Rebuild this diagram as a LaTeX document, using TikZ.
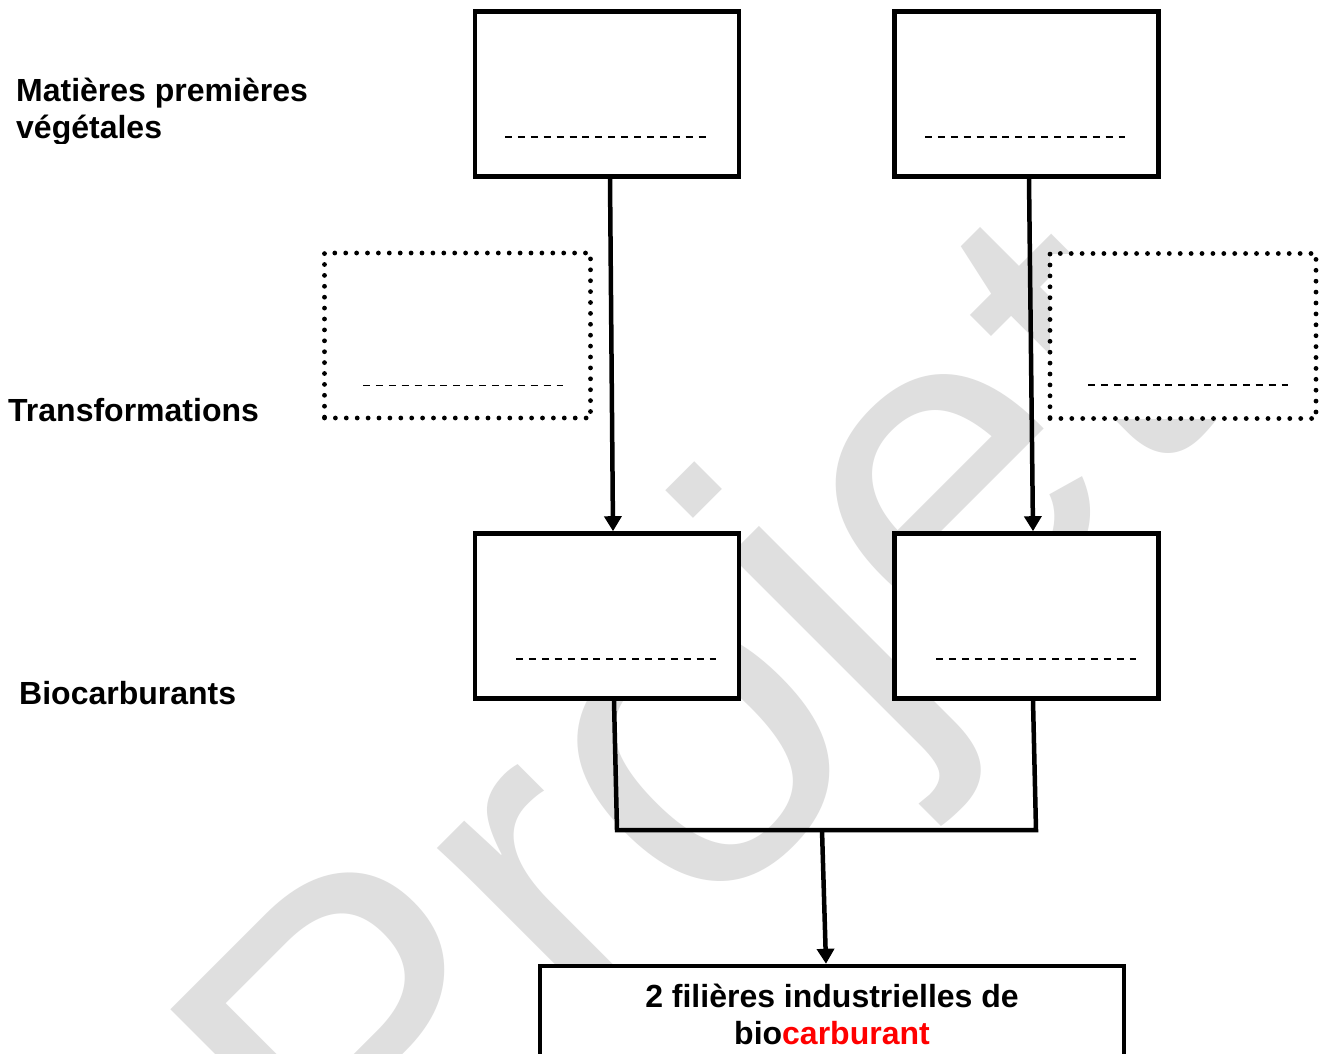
\documentclass[tikz,border=0pt]{standalone}
\usepackage{fontspec}
\setmainfont{Liberation Sans}
\usetikzlibrary{arrows.meta,calc}
\definecolor{wm}{gray}{0.875}
\definecolor{redtxt}{RGB}{255,0,0}
\begin{document}
\begin{tikzpicture}[x=1pt,y=-1pt,
  box/.style={draw, line width=4.6pt, fill=white, minimum width=264pt, minimum height=165pt, inner sep=0pt},
  dotbox/.style={draw, line width=4.8pt, dash pattern=on 0pt off 10.9pt, line cap=round, fill=white, minimum width=266pt, minimum height=165pt, inner sep=0pt},
  blank/.style={line width=1.7pt, dash pattern=on 7pt off 5.9pt},
  conn/.style={line width=4.5pt},
  arr/.style={conn, -{Triangle[width=17pt,length=15pt]}},
  lab/.style={font=\fontsize{32}{37}\selectfont\bfseries, inner sep=0pt, anchor=base west},
  ctext/.style={font=\fontsize{32}{37}\selectfont\bfseries, inner sep=0pt, anchor=base},
  water/.style={font=\fontsize{466}{466}\selectfont, text=wm, inner sep=0pt, anchor=base west, rotate=45}
]
\useasboundingbox (0,0) rectangle (1319,1054);
\clip (0,0) rectangle (1319,1054);
\fill[white] (0,0) rectangle (1319,1054);

% watermark
\node[water] (wmk) at (370,1264) {Projet};

% boxes
\node[box] (b1) at (607,94) {};
\node[box] (b2) at (1026.5,94) {};
\node[dotbox] (t1) at (457.5,335.5) {};
\node[dotbox] (t2) at (1183,336) {};
\node[box] (b3) at (607,616) {};
\node[box] (b4) at (1026.5,616) {};
\node[draw, line width=4.6pt, fill=white, minimum width=584pt, minimum height=150pt, inner sep=0pt, anchor=north] (bb) at (832,963.8) {};

% blanks
\draw[blank] ([shift={(-102,43)}]b1.center) -- ([shift={(99,43)}]b1.center);
\draw[blank] ([shift={(-101.5,43)}]b2.center) -- ([shift={(98.5,43)}]b2.center);
\draw[blank] ([shift={(-94.5,50)}]t1.center) -- ([shift={(105.5,50)}]t1.center);
\draw[blank] ([shift={(-95,49)}]t2.center) -- ([shift={(105,49)}]t2.center);
\draw[blank] ([shift={(-91,43)}]b3.center) -- ([shift={(109,43)}]b3.center);
\draw[blank] ([shift={(-90.5,43)}]b4.center) -- ([shift={(109.5,43)}]b4.center);

% connectors
\draw[arr] ([shift={(3,0)}]b1.south) -- ([shift={(6,0)}]b3.north);
\draw[arr] ([shift={(2.5,0)}]b2.south) -- ([shift={(6.5,0)}]b4.north);
\coordinate (jl) at (617,830);
\coordinate (jr) at (1036,830);
\coordinate (jm) at (822,830);
\draw[conn] ([shift={(7,0)}]b3.south) -- (jl) -- (jr) -- ([shift={(6.5,0)}]b4.south);
\draw[arr] (jm) -- ([shift={(-6,0)}]bb.north);

% texts in bottom box
\node[ctext] (bbt1) at (832,1007) {2 filières industrielles de};
\node[ctext] (bbt2) at (832,1044) {bio\textcolor{redtxt}{carburant}};

% row labels
\node[lab] (l1) at (16,102) {Matières premières};
\begin{scope}
\clip (0,0) rectangle (400,143);
\node[lab] (l2) at (16,139) {végétales};
\end{scope}
\node[lab] (l3) at (8,421) {Transformations};
\node[lab] (l4) at (19,704) {Biocarburants};
\end{tikzpicture}
\end{document}
